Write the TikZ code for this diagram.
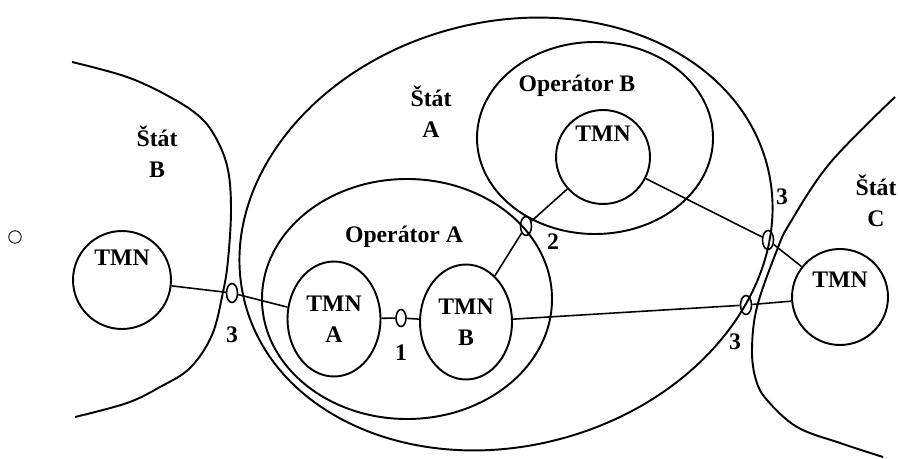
\documentclass[tikz,border=0pt]{standalone}
\usepackage{fontspec}
\setmainfont{Liberation Serif}
\usepackage{tikz}
\usetikzlibrary{positioning,calc,shapes}

\begin{document}
\begin{tikzpicture}[x=0.02cm,y=-0.02cm,
  every node/.style={font=\bfseries\fontsize{13.5}{17.6}\selectfont},
  region/.style={line width=1.1pt},
  tmn/.style={draw,circle,line width=1.1pt,inner sep=0pt},
  tmnpair/.style={draw,ellipse,line width=1.1pt,inner sep=0pt,align=center,
    minimum width=1.86cm,minimum height=2.3cm},
  iface/.style={draw,ellipse,line width=0.9pt,inner sep=0pt,
    minimum width=0.22cm,minimum height=0.38cm},
  link/.style={line width=0.9pt}]
  \useasboundingbox (0,0) rectangle (898,459);

  % stray mark on the left margin
  \node[draw,circle,line width=0.5pt,minimum size=0.25cm,inner sep=0pt] (mark) at (15,237) {};

  % borders of the states
  \draw[region] plot[smooth,tension=0.6] coordinates {(72,62) (127,77) (170,97)
    (200,117) (217,140) (228,170) (231,210) (228,260) (223,292) (212,335)
    (190,368) (160,387) (127,403) (75,417)};
  \draw[region] plot[smooth,tension=0.6] coordinates {(895,97) (830,163)
    (790,223) (777,250) (757,307) (752,350) (756,380) (767,400) (797,427)
    (840,443) (883,457)};
  % state A and the two operators
  \draw[region,rotate around={15:(506,234)}] (506,234) ellipse [x radius=270,y radius=212];
  \draw[region] (407,299) ellipse [x radius=145,y radius=120];
  \draw[region] (595,138) ellipse [x radius=118,y radius=96];

  \node[align=center] (stA) at (431,112) {Štát\\A};
  \node[align=center] (stB) at (157,152) {Štát\\B};
  \node[align=center] (stC) at (876,201) {Štát\\C};
  \node (opA) at (404,237) {Operátor A};
  \node (opB) at (577,86) {Operátor B};

  % management networks
  \node[tmn,minimum size=1.96cm,label={[yshift=0.44cm]center:TMN}] (tmnSB) at (122,280) {};
  \node[tmnpair] (tmnA) at (334,319) {TMN\\A};
  \node[tmnpair,minimum width=1.84cm] (tmnB) at (466,322) {TMN\\B};
  \node[tmn,minimum size=1.88cm,label={[yshift=0.46cm]center:TMN}] (tmnOB) at (603,157) {};
  \node[tmn,minimum size=1.92cm,label={[yshift=0.34cm]center:TMN}] (tmnC) at (840,297) {};

  % interfaces between them
  \node[iface] (if3w) at (232,293) {};
  \node[iface,minimum width=0.2cm,minimum height=0.34cm] (if1) at (401,318) {};
  \node[iface] (if2) at (526,226) {};
  \node[iface] (if3n) at (768,240) {};
  \node[iface] (if3s) at (746,305) {};

  \draw[link] (tmnSB) -- (if3w) -- (tmnA);
  \draw[link] (tmnA) -- (if1) -- (tmnB);
  \draw[link] (tmnB) -- (if2) -- (tmnOB);
  \draw[link] (tmnOB) -- (if3n) -- (tmnC);
  \draw[link] (tmnB) -- (if3s) -- (tmnC);

  \node (n3w) at (232,335) {3};
  \node (n1) at (401,353) {1};
  \node (n2) at (553,242) {2};
  \node (n3n) at (782,197) {3};
  \node (n3s) at (735,342) {3};
\end{tikzpicture}
\end{document}
